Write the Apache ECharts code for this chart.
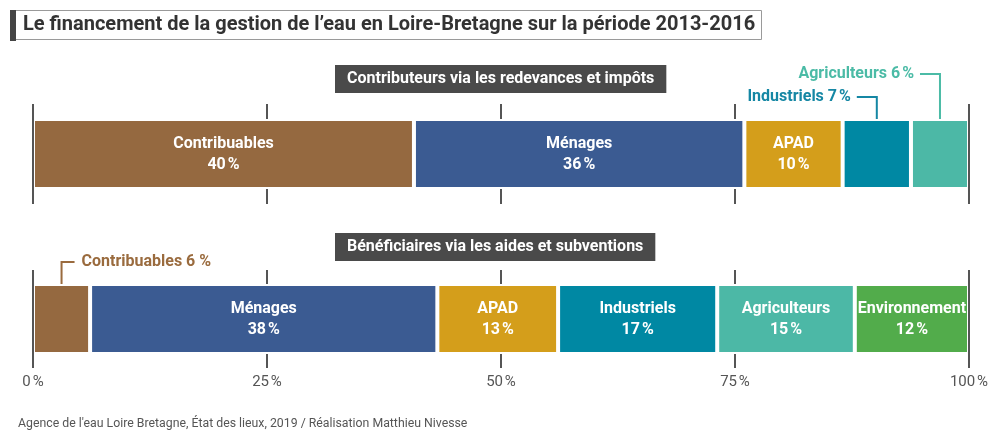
<!DOCTYPE html>
<html>
<head>
<meta charset="utf-8">
<script src="https://cdn.jsdelivr.net/npm/echarts@6/dist/echarts.min.js"></script>
<style>
html,body{margin:0;padding:0;background:#fff;}
#chart{width:1000px;height:444px;}
</style>
</head>
<body>
<div id="chart"></div>
<script>
// ---- data ----
const topCategories = ['Contribuables', 'Ménages', 'APAD', 'Industriels', 'Agriculteurs'];
const topShares = [40.7, 35.3, 10.5, 7.3, 6.2];        // bar lengths (%)
const topLabels = [40, 36, 10, 7, 6];                   // published percentages
const bottomCategories = ['Contribuables', 'Ménages', 'APAD', 'Industriels', 'Agriculteurs', 'Environnement'];
const bottomShares = [6.1, 37.1, 12.9, 17.0, 14.7, 12.2];
const bottomLabels = [6, 38, 13, 17, 15, 12];
const xTickValues = [0, 25, 50, 75, 100];
const headers = ['Contributeurs via les redevances et impôts', 'Bénéficiaires via les aides et subventions'];
const mainTitle = 'Le financement de la gestion de l’eau en Loire-Bretagne sur la période 2013-2016';
const footer = "Agence de l'eau Loire Bretagne, État des lieux, 2019 / Réalisation Matthieu Nivesse";

// ---- styles ----
const colors = {
  'Contribuables': '#956940',
  'Ménages': '#3b5b92',
  'APAD': '#d49e1b',
  'Industriels': '#0088a3',
  'Agriculteurs': '#4cb8a6',
  'Environnement': '#52ac4b'
};
const calloutColors = {
  'Contribuables': '#9a6b3e',
  'Industriels': '#1587a4',
  'Agriculteurs': '#4bbba6'
};
const NS = '\u202f';
const FONT = 'Roboto';
const BAR_W = 70;

const chart = echarts.init(document.getElementById('chart'), null, {renderer: 'canvas'});

function buildSeries(cats, shares, labels, idx) {
  return cats.map((name, i) => ({
    type: 'bar',
    name: name,
    xAxisIndex: idx,
    yAxisIndex: idx,
    stack: 'bar' + idx,
    barWidth: BAR_W,
    silent: true,
    data: [shares[i]],
    itemStyle: {color: colors[name], borderColor: '#fff', borderWidth: 2},
    label: {
      show: shares[i] >= 8,
      position: 'inside',
      formatter: name + '\n' + labels[i] + NS + '%',
      color: '#fff',
      fontFamily: FONT,
      fontWeight: 'bold',
      fontSize: 16,
      lineHeight: 21
    },
    markLine: i === 0 ? {
      silent: true,
      symbol: 'none',
      label: {show: false},
      lineStyle: {color: '#555', width: 2, type: 'solid'},
      data: [{xAxis: xTickValues[0]}, {xAxis: xTickValues[xTickValues.length - 1]}]
    } : undefined
  }));
}

function xAxisCfg(idx, showLabels) {
  return {
    type: 'value',
    gridIndex: idx,
    min: xTickValues[0],
    max: xTickValues[xTickValues.length - 1],
    interval: xTickValues[1] - xTickValues[0],
    axisLine: {show: false},
    axisTick: {show: false},
    splitLine: {show: true, lineStyle: {color: '#555', width: 2}},
    axisLabel: {
      show: showLabels,
      margin: 7,
      fontFamily: FONT,
      fontSize: 15,
      color: '#555',
      formatter: v => v + NS + '%'
    }
  };
}

const option = {
  animation: false,
  backgroundColor: '#fff',
  title: [
    {
      text: mainTitle, left: 10, top: 10,
      padding: [5, 7, 5, 13],
      borderColor: '#9a9a9a', borderWidth: 1, backgroundColor: '#fff',
      textStyle: {fontFamily: FONT, fontSize: 20, fontWeight: 'bold', color: '#333', lineHeight: 20}
    },
    {
      text: headers[0], left: 335, top: 65, padding: [5, 12],
      backgroundColor: '#4a4a4a',
      textStyle: {fontFamily: FONT, fontSize: 16, fontWeight: 'bold', color: '#fff', lineHeight: 18}
    },
    {
      text: headers[1], left: 335, top: 233, padding: [5, 12],
      backgroundColor: '#4a4a4a',
      textStyle: {fontFamily: FONT, fontSize: 16, fontWeight: 'bold', color: '#fff', lineHeight: 18}
    },
    {
      text: footer, left: 18, top: 418, padding: 0,
      textStyle: {fontFamily: FONT, fontSize: 12.3, fontWeight: 'normal', color: '#555'}
    }
  ],
  grid: [
    {left: 33, right: 31, top: 104, height: 100},
    {left: 33, right: 31, top: 270, height: 98}
  ],
  xAxis: [xAxisCfg(0, false), xAxisCfg(1, true)],
  yAxis: [
    {type: 'category', gridIndex: 0, data: [headers[0]], show: false},
    {type: 'category', gridIndex: 1, data: [headers[1]], show: false}
  ],
  series: buildSeries(topCategories, topShares, topLabels, 0)
    .concat(buildSeries(bottomCategories, bottomShares, bottomLabels, 1))
};
chart.setOption(option);

// ---- callouts for narrow segments, positioned via the axes ----
function segCenter(shares, i, idx) {
  let start = 0;
  for (let k = 0; k < i; k++) start += shares[k];
  const p = chart.convertToPixel({xAxisIndex: idx, yAxisIndex: idx}, [start + shares[i] / 2, 0]);
  return {x: p[0], top: p[1] - BAR_W / 2 + 1};
}
const graphics = [
  {type: 'rect', shape: {x: 10, y: 10, width: 6, height: 31}, style: {fill: '#444'}, z: 10}
];
function addCallout(name, text, c, rise, dir) {
  const col = calloutColors[name];
  const y = c.top - rise;
  const hx = c.x + dir * 13;
  graphics.push({
    type: 'polyline', silent: true,
    shape: {points: [[c.x, c.top], [c.x, y], [hx + (dir < 0 ? -7 : 0), y]]},
    style: {stroke: col, lineWidth: 2, fill: null}
  });
  graphics.push({
    type: 'text', silent: true,
    x: dir < 0 ? hx - 13 : hx + 7, y: y,
    style: {
      text: text, fill: col, font: 'bold 16px ' + FONT,
      align: dir < 0 ? 'right' : 'left', verticalAlign: 'middle'
    }
  });
}
// top bar: narrow segments on the right, stacked upward
{
  const narrow = topCategories.map((n, i) => i).filter(i => topShares[i] < 8);
  narrow.forEach((i, k) => {
    const c = segCenter(topShares, i, 0);
    addCallout(topCategories[i], topCategories[i] + ' ' + topLabels[i] + NS + '%', c, 23 * (k + 1), -1);
  });
}
// bottom bar
{
  const narrow = bottomCategories.map((n, i) => i).filter(i => bottomShares[i] < 8);
  narrow.forEach(i => {
    const c = segCenter(bottomShares, i, 1);
    addCallout(bottomCategories[i], bottomCategories[i] + ' ' + bottomLabels[i] + ' %', c, 23, 1);
  });
}
chart.setOption({graphic: graphics});
</script>
</body>
</html>
